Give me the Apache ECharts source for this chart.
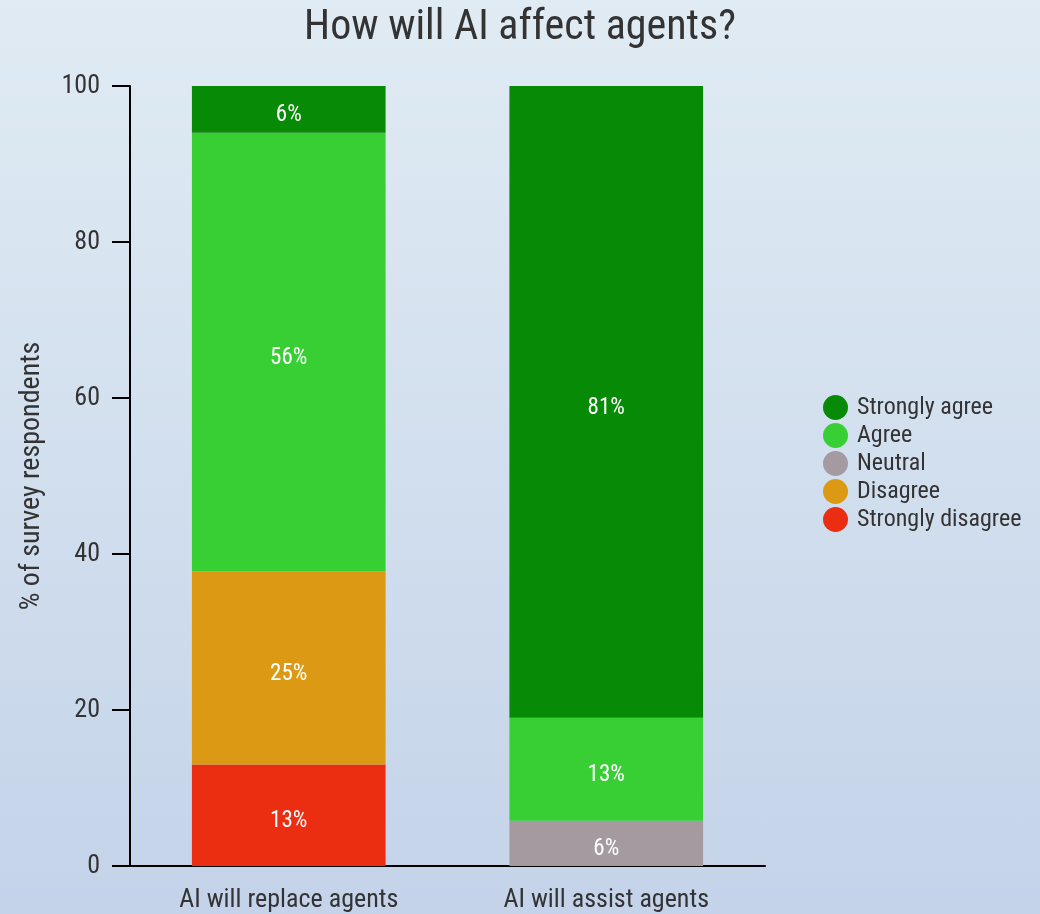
<!DOCTYPE html>
<html><head><meta charset="utf-8">
<script src="https://cdn.jsdelivr.net/npm/echarts@6/dist/echarts.min.js"></script>
<style>html,body{margin:0;padding:0;}#c{width:1040px;height:914px;background:linear-gradient(to bottom,#e0ebf3,#c4d3e9);}</style>
</head><body><div id="c"></div>
<script>
const categories = ['AI will replace agents', 'AI will assist agents'];
const seriesNames = ['Strongly disagree', 'Disagree', 'Neutral', 'Agree', 'Strongly agree'];
const stronglyDisagree = [13, 0];
const disagree = [24.8, 0];
const neutral = [0, 5.8];
const agree = [56.2, 13.2];
const stronglyAgree = [6, 81];
const yTicks = [0, 20, 40, 60, 80, 100];
const colors = ['#eb2d12', '#dc9a14', '#a59a9f', '#38cf35', '#078a05'];
const FONT = "'Roboto Condensed','Liberation Sans Narrow','DejaVu Sans Condensed',Roboto,sans-serif";
const values = [stronglyDisagree, disagree, neutral, agree, stronglyAgree];

const chart = echarts.init(document.getElementById('c'));
chart.setOption({
  backgroundColor: 'transparent',
  textStyle: { fontFamily: FONT },
  title: { text: 'How will AI affect agents?', left: 'center', top: 2,
    textStyle: { fontFamily: FONT, fontSize: 42, fontWeight: 'normal', color: '#333' } },
  legend: {
    data: seriesNames.slice().reverse(), orient: 'vertical', left: 818, top: 390,
    icon: 'circle', itemWidth: 25, itemHeight: 25, itemGap: 3,
    textStyle: { fontFamily: FONT, fontSize: 24, color: '#333', padding: [0, 0, 0, 4] }
  },
  grid: { left: 130, right: 275, top: 86, bottom: 48 },
  xAxis: {
    type: 'category', data: categories,
    axisLine: { lineStyle: { color: '#000', width: 2 } },
    axisTick: { alignWithLabel: true, length: 18, lineStyle: { color: '#000', width: 2 } },
    axisLabel: { fontFamily: FONT, fontSize: 26, color: '#333', margin: 21 }
  },
  yAxis: {
    type: 'value', min: 0, max: 100, interval: 20,
    name: '% of survey respondents', nameLocation: 'middle', nameGap: 84,
    nameTextStyle: { fontFamily: FONT, fontSize: 28, color: '#333' },
    splitLine: { show: false },
    axisLine: { show: true, lineStyle: { color: '#000', width: 2 } },
    axisTick: { show: true, length: 18, lineStyle: { color: '#000', width: 2 } },
    axisLabel: { fontFamily: FONT, fontSize: 26, color: '#333', margin: 30,
      formatter: v => yTicks.includes(v) ? String(v) : '' }
  },
  series: seriesNames.map((n, i) => ({
    name: n, type: 'bar', stack: 'a', barWidth: '61%',
    itemStyle: { color: colors[i] },
    data: values[i].map(v => v === 0 ? null : v),
    label: { show: true, position: 'inside', color: '#fff', fontFamily: FONT, fontSize: 23,
      offset: [0, 6],
      formatter: p => p.value ? Math.round(p.value) + '%' : '' }
  }))
});
</script></body></html>
